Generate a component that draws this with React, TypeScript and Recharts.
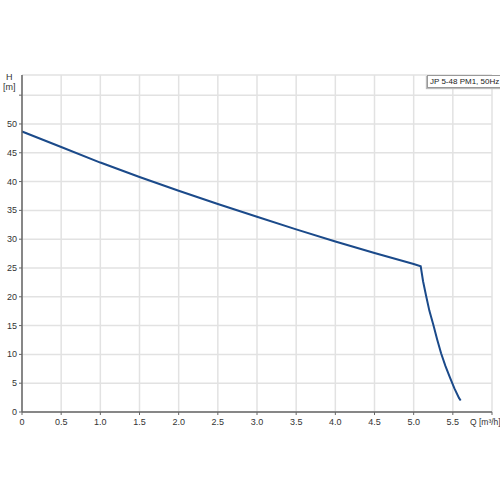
import React from 'react';
import { LineChart, Line, XAxis, YAxis, CartesianGrid } from 'recharts';

const flowQ = [0, 0.5, 1.0, 1.5, 2.0, 2.5, 3.0, 3.5, 4.0, 4.5, 5.0, 5.09, 5.12, 5.16, 5.2, 5.25, 5.3, 5.35, 5.405, 5.46, 5.52, 5.58, 5.6];
const headH = [48.7, 46.0, 43.3, 40.8, 38.4, 36.1, 33.9, 31.7, 29.6, 27.6, 25.7, 25.3, 22.7, 20.1, 17.6, 15.2, 12.6, 10.2, 8.0, 6.1, 4.1, 2.4, 2.0];
const xTicks = [0, 0.5, 1.0, 1.5, 2.0, 2.5, 3.0, 3.5, 4.0, 4.5, 5.0, 5.5, 6.0];
const yTicks = [0, 5, 10, 15, 20, 25, 30, 35, 40, 45, 50, 55];
const seriesName = 'JP 5-48 PM1, 50Hz';

const data = flowQ.map((q, i) => ({ q, h: headH[i] }));

const FONT = '"Liberation Sans", Arial, sans-serif';

const XTick = (props: any) => {
  const { x, y, payload } = props;
  if (payload.value === 6) {
    return (
      <text x={x - 22} y={y + 8} fontSize={8.5} fill="#333" fontFamily={FONT} textAnchor="start">
        Q [m³/h]
      </text>
    );
  }
  return (
    <text x={x} y={y + 8} fontSize={9} fill="#333" fontFamily={FONT} textAnchor="middle">
      {payload.value === 0 ? '0' : payload.value.toFixed(1)}
    </text>
  );
};

const YTick = (props: any) => {
  const { x, y, payload } = props;
  if (payload.value === 55) return <g />;
  return (
    <text x={x} y={y + 3} fontSize={9} fill="#333" fontFamily={FONT} textAnchor="end">
      {payload.value}
    </text>
  );
};

export default function App() {
  return (
    <div style={{ position: 'absolute', left: 0, top: 0, width: 500, height: 500, background: '#fff', overflow: 'hidden' }}>
      <LineChart width={500} height={500} data={data} margin={{ top: 75, right: 8, bottom: 58, left: 0 }}>
        <CartesianGrid stroke="#e2e2e2" strokeWidth={1.5} />
        <XAxis
          dataKey="q"
          type="number"
          domain={[0, 6]}
          ticks={xTicks}
          interval={0}
          height={30}
          tickSize={3}
          tick={<XTick />}
          stroke="#666"
          axisLine={{ stroke: '#666', strokeWidth: 1.5 }}
        />
        <YAxis
          type="number"
          domain={[0, 58.5]}
          ticks={yTicks}
          interval={0}
          width={22}
          tickSize={3}
          tickMargin={2}
          tick={<YTick />}
          stroke="#666"
          axisLine={{ stroke: '#666', strokeWidth: 1.5 }}
        />
        <Line
          dataKey="h"
          name={seriesName}
          type="linear"
          stroke="#1b4a8a"
          strokeWidth={2}
          dot={false}
          isAnimationActive={false}
        />
      </LineChart>
      <div
        style={{
          position: 'absolute',
          left: 427,
          top: 75,
          border: '1px solid #999',
          boxShadow: '-1px 1px 1px #bbb',
          background: '#fff',
          fontFamily: FONT,
          fontSize: 8,
          color: '#222',
          padding: '0px 2px',
          lineHeight: '11px',
          whiteSpace: 'nowrap',
        }}
      >
        {seriesName}
      </div>
      <div style={{ position: 'absolute', left: 3, top: 72, fontFamily: FONT, fontSize: 9, color: '#333', lineHeight: '10px', textAlign: 'center' }}>
        H<br />[m]
      </div>
    </div>
  );
}
